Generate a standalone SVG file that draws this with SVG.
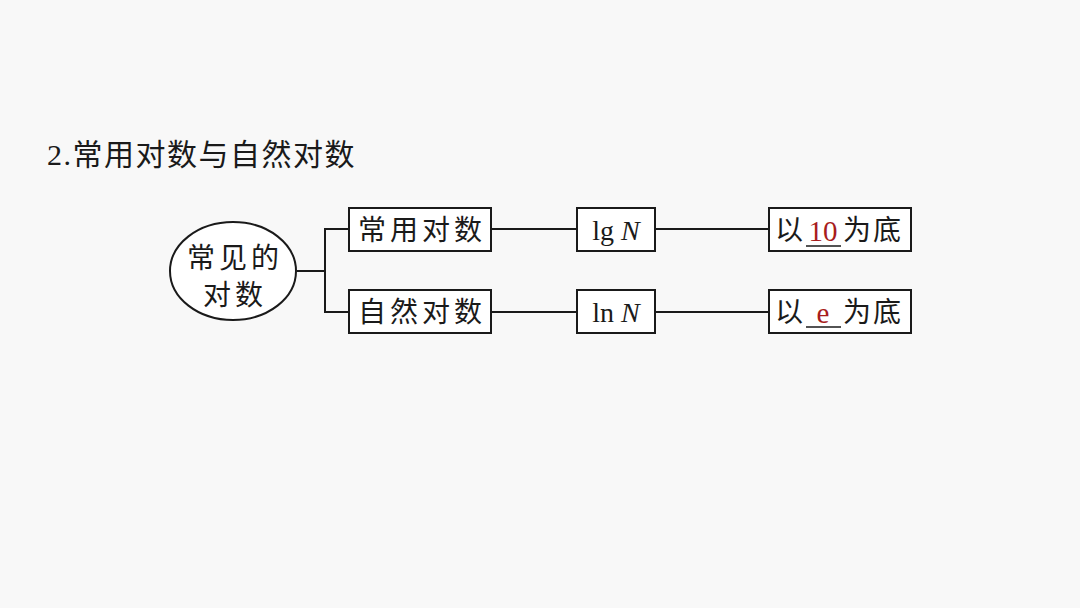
<svg xmlns="http://www.w3.org/2000/svg" width="1080" height="608" viewBox="0 0 1080 608">
<style>
.bg{fill:#f8f8f8}
.box{fill:#ffffff;stroke:#1a1a1a;stroke-width:2}
.ln{fill:none;stroke:#1a1a1a;stroke-width:2}
.cjk{font-family:"Liberation Serif","Noto Sans CJK SC",serif;font-size:28px;fill:#1a1a1a;letter-spacing:4px}
.tm{font-family:"Liberation Serif",serif;font-size:28px;fill:#1a1a1a}
.red{font-family:"Liberation Serif",serif;font-size:29px;fill:#a81c1c}
.ul{stroke:#1a1a1a;stroke-width:1.5}
</style>
<rect class="bg" x="0" y="0" width="1080" height="608"/>
<text x="47" y="165" style="font-family:'Liberation Serif','Noto Sans CJK SC',serif;font-size:30px;fill:#1a1a1a;letter-spacing:1.5px">2.常用对数与自然对数</text>
<g id="connectors">
<line class="ln" x1="297" y1="271" x2="325" y2="271"/>
<polyline class="ln" points="349,229 325,229 325,312 349,312"/>
<line class="ln" x1="491" y1="229" x2="577" y2="229"/>
<line class="ln" x1="655" y1="229" x2="769" y2="229"/>
<line class="ln" x1="491" y1="312" x2="577" y2="312"/>
<line class="ln" x1="655" y1="312" x2="769" y2="312"/>
</g>
<g id="root">
<ellipse class="box" cx="233" cy="271" rx="63" ry="49"/>
<text class="cjk" x="235" y="268" text-anchor="middle">常见的</text>
<text class="cjk" x="235" y="305" text-anchor="middle">对数</text>
</g>
<g id="common">
<rect class="box" x="349" y="208" width="142" height="43"/>
<text class="cjk" x="422" y="240" text-anchor="middle">常用对数</text>
</g>
<g id="natural">
<rect class="box" x="349" y="290" width="142" height="43"/>
<text class="cjk" x="422" y="322" text-anchor="middle">自然对数</text>
</g>
<g id="lg">
<rect class="box" x="577" y="208" width="78" height="43"/>
<text class="tm" x="616" y="240" text-anchor="middle">lg <tspan font-style="italic">N</tspan></text>
</g>
<g id="ln">
<rect class="box" x="577" y="290" width="78" height="43"/>
<text class="tm" x="616" y="322" text-anchor="middle">ln <tspan font-style="italic">N</tspan></text>
</g>
<g id="base10">
<rect class="box" x="769" y="208" width="142" height="43"/>
<text class="cjk" x="775" y="240">以</text>
<line class="ul" x1="806" y1="246" x2="841" y2="246"/>
<text class="red" x="823" y="241" text-anchor="middle">10</text>
<text class="cjk" x="843" y="240" style="letter-spacing:2px">为底</text>
</g>
<g id="basee">
<rect class="box" x="769" y="290" width="142" height="43"/>
<text class="cjk" x="775" y="322">以</text>
<line class="ul" x1="806" y1="327" x2="841" y2="327"/>
<text class="red" x="823" y="323" text-anchor="middle">e</text>
<text class="cjk" x="843" y="322" style="letter-spacing:2px">为底</text>
</g>
</svg>
